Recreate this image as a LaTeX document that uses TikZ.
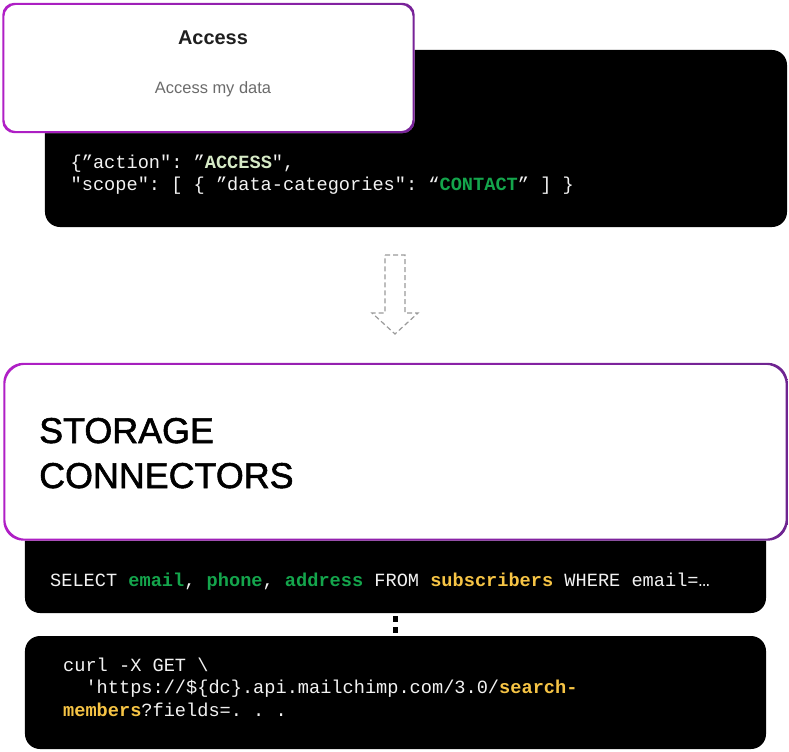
\documentclass[tikz,border=0pt]{standalone}
\usepackage{fontspec}
\setmainfont{Liberation Sans}
\setmonofont{Liberation Mono}
\newfontfamily\headfont{Liberation Sans}[FakeBold=1.6]
\definecolor{pleft}{HTML}{B01FC6}
\definecolor{pright}{HTML}{6E2490}
\definecolor{codegreen}{HTML}{14A54C}
\definecolor{codeyellow}{HTML}{F6C445}
\definecolor{codepale}{HTML}{D6EAC6}
\definecolor{codewhite}{HTML}{F2F2F2}
\definecolor{arrowgray}{HTML}{9A9A9A}
\definecolor{subgray}{HTML}{6B6B6B}
\tikzset{
  blackbox/.style={fill=black, rounded corners=15bp, inner sep=0pt},
  whitecard/.style={fill=white, inner sep=0pt},
  codeline/.style={anchor=base west, inner sep=0pt, text=codewhite,
    font=\ttfamily\fontsize{18.7}{22}\selectfont},
  headline/.style={anchor=base west, inner sep=0pt, font=\headfont\fontsize{36}{45}\selectfont},
}
\newcommand{\G}[1]{\textcolor{codegreen}{\bfseries #1}}
\newcommand{\Y}[1]{\textcolor{codeyellow}{\bfseries #1}}
\newcommand{\Pl}[1]{\textcolor{codepale}{\bfseries #1}}
\begin{document}
\begin{tikzpicture}[x=1bp,y=-1bp]
\useasboundingbox (0,0) rectangle (789,752);
% JSON black box
\node[blackbox, minimum width=742bp, minimum height=177bp] (json) at (416,138.5) {};
% Access card
\node[whitecard, rounded corners=12bp, minimum width=412bp, minimum height=130bp] (card) at (208.5,68) {};
\shade[even odd rule, left color=pleft, right color=pright!85!pleft, rounded corners=12bp]
  (card.north west) rectangle (card.south east)
  ([xshift=2bp,yshift=-2bp]card.north west) rectangle ([xshift=-2bp,yshift=2bp]card.south east);
\node[font=\bfseries\fontsize{20}{24}\selectfont, text=black!88] (title) at (213,38) {Access};
\node[font=\fontsize{16.5}{20}\selectfont, text=subgray] (sub) at (213,89) {Access my data};
% JSON text
\node[codeline] (j1) at (70.5,168.3) {\{”action": ”\Pl{ACCESS}",};
\node[codeline] (j2) at (70.5,190.7) {"scope": [ \{ ”data-categories": “\G{CONTACT}” ] \}};
% arrow
\draw[arrowgray, line width=1.2bp, dash pattern=on 5bp off 3bp, line join=miter]
  (385,255) -- (405,255) -- (405,313) -- (418,313) -- (395,334) -- (372,313) -- (385,313) -- cycle;
% SQL box (behind storage)
\node[blackbox, minimum width=741bp, minimum height=93bp] (sql) at (395.5,566.5) {};
% Storage box
\node[whitecard, rounded corners=20bp, minimum width=784bp, minimum height=177.5bp] (storage) at (395.5,451.75) {};
\shade[even odd rule, left color=pleft, right color=pright, rounded corners=20bp]
  (storage.north west) rectangle (storage.south east)
  ([xshift=2bp,yshift=-2bp]storage.north west) rectangle ([xshift=-2bp,yshift=2bp]storage.south east);
\node[headline] (st1) at (39,443) {STORAGE};
\node[headline] (st2) at (39,488) {CONNECTORS};
% SQL text
\node[codeline] (s1) at (50,586) {SELECT \G{email}, \G{phone}, \G{address} FROM \Y{subscribers} WHERE email=…};
% curl box
\node[blackbox, minimum width=741bp, minimum height=113bp] (curl) at (395.5,692.5) {};
\node[codeline] (c1) at (63,671) {curl -X GET \textbackslash};
\node[codeline] (c2) at (63,693.5) {~~'https://\$\{dc\}.api.mailchimp.com/3.0/\Y{search-}};
\node[codeline] (c3) at (63,716) {\Y{members}?fields=. . .};
% connector between sql and curl
\coordinate (d1) at (sql.south);
\coordinate (d2) at (curl.north);
\draw[black, line width=5bp, dash pattern=on 6bp off 5bp, dash phase=-3bp] (d1) -- (d2);
\end{tikzpicture}
\end{document}
